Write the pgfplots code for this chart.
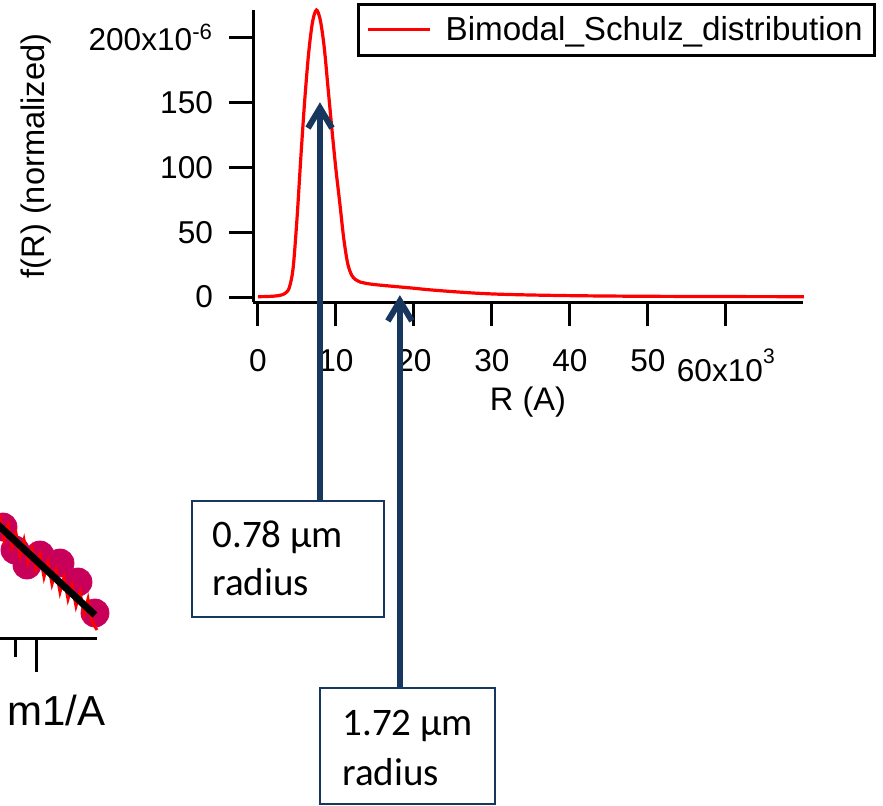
\documentclass[border=0pt]{standalone}
\usepackage{fontspec}
\setmainfont{Liberation Sans}
\newfontfamily\calibri{Carlito}
\usepackage{pgfplots}
\pgfplotsset{compat=1.18}
\usetikzlibrary{arrows.meta}
\definecolor{navy}{RGB}{23,55,94}
\definecolor{dotred}{RGB}{200,0,90}
\newcommand{\sups}[1]{\raisebox{9pt}{\fontsize{10.5}{11}\selectfont #1}}

\begin{document}
\begin{tikzpicture}
\clip (0pt,0pt) rectangle (441.5pt,-402.5pt);

% main distribution plot
\begin{axis}[
  at={(126.5pt,-151pt)}, anchor=south west,
  scale only axis, width=275pt, height=146pt,
  xmin=-0.64, xmax=69.9, ymin=-3.8, ymax=221,
  axis lines=left, axis line style={-, line width=1.5pt},
  tick style={line width=1.5pt, black}, major tick length=12pt, tick align=outside,
  xtick={0,10,20,30,40,50,60},
  xticklabels={0,10,20,30,40,50,60x10\sups{3}},
  ytick={0,50,100,150,200},
  yticklabels={0,50,100,150,200x10\textsuperscript{-6}},
  minor tick num=0,
  tick label style={font=\fontsize{15.8}{18}\selectfont},
  xticklabel style={yshift=-8pt},
  yticklabel style={xshift=-4.5pt},
  xlabel={R (A)}, ylabel={f(R) (normalized)},
  label style={font=\fontsize{16.3}{19}\selectfont},
  xlabel style={at={(axis description cs:0.5,-0.342)}, anchor=center},
  ylabel style={at={(axis description cs:-0.3945,0.5)}, anchor=center},
  legend style={at={(axis description cs:1.1327,1.024)}, anchor=north east,
    draw=black, line width=1.3pt, font=\fontsize{16.6}{19}\selectfont,
    inner xsep=4pt, inner ysep=4pt, cells={anchor=west}},
  legend image code/.code={\draw[#1] (0pt,0pt) -- (31pt,0pt); \path (36pt,0pt);},
  clip=false,
]
\addplot[red, line width=1.6pt, smooth] coordinates {
  (0,0.3)(1,0.4)(2,0.7)(2.5,1.0)(3,1.6)(3.5,3.0)(4,7)(4.5,22)(5,60)(5.5,108)
  (6,152)(6.5,188)(7,212)(7.5,221)(8,213)(8.5,192)(9,160)(9.5,128)(10,98)
  (10.5,72)(11,45)(11.5,26)(12,17)(12.5,13.5)(13,11.8)(14,10.4)(15,9.6)
  (16,9.0)(18,7.9)(20,6.8)(22,5.6)(25,4.2)(28,3.0)(31,2.2)(35,1.6)(40,1.1)
  (45,0.8)(50,0.6)(60,0.4)(70,0.3)};
\addlegendentry{Bimodal\_Schulz\_distribution}
\coordinate (a1t) at (axis cs:7.95,150);
\coordinate (a1b) at (axis cs:7.95,-156.9);
\coordinate (a2t) at (axis cs:18.2,1.5);
\coordinate (a2b) at (axis cs:18.2,-300.8);
\end{axis}

% partial fit plot at the lower left
\begin{axis}[
  at={(-200pt,-319pt)}, anchor=south west,
  x=0.5pt, y=0.5pt,
  xmin=-400, xmax=97, ymin=167, ymax=330,
  axis x line=bottom, axis y line=none,
  axis line style={-, line width=1.5pt},
  xtick={37}, minor xtick={16}, xticklabels={},
  tick align=outside, major tick length=17pt, minor tick length=9.5pt,
  tick style={black, line width=1.5pt},
  clip=false, clip marker paths=true,
]
\addplot[only marks, mark=*, color=dotred, mark size=7pt]
  coordinates {(-30,308)(-15,297)(3,278)(15,255)(27,240)(40,250)(60,242)(78,223)(95,192)};
\addplot[red, line width=1.5pt] coordinates {
  (-12,285)(-8,290)(-4,278)(0,287)(4,265)(8,280)(12,258)(16,272)(20,250)(24,265)
  (28,243)(32,257)(36,236)(40,250)(44,228)(48,243)(52,221)(56,235)(60,213)
  (64,228)(68,206)(72,220)(76,199)(80,213)(84,191)(88,206)(92,184)(97,175)};
\addplot[black, line width=3.5pt] coordinates {(-60,334)(95,190)};
\end{axis}

\begin{scope}[x=0.5pt,y=-0.5pt]
\node[anchor=base west, inner sep=0pt, font=\fontsize{21}{24}\selectfont] at (7,725) {m1/A};
% arrows and call-out boxes
\draw[navy, line width=3pt, -{Straight Barb[length=10pt,width=12pt]}] (a1b) -- (a1t);
\draw[navy, line width=3pt, -{Straight Barb[length=10pt,width=12pt]}] (a2b) -- (a2t);
\draw[navy, line width=0.8pt, fill=white] (192,501) rectangle (384,617);
\draw[navy, line width=0.8pt, fill=white] (320,688) rectangle (495,804);
\begin{scope}[every node/.style={anchor=base west, inner sep=0pt, font=\calibri\fontsize{19.5}{22}\selectfont}]
\node at (212,547) {0.78 µm};
\node at (212,595) {radius};
\node at (342,735) {1.72 µm};
\node at (342,785) {radius};
\end{scope}
\end{scope}
\end{tikzpicture}
\end{document}
